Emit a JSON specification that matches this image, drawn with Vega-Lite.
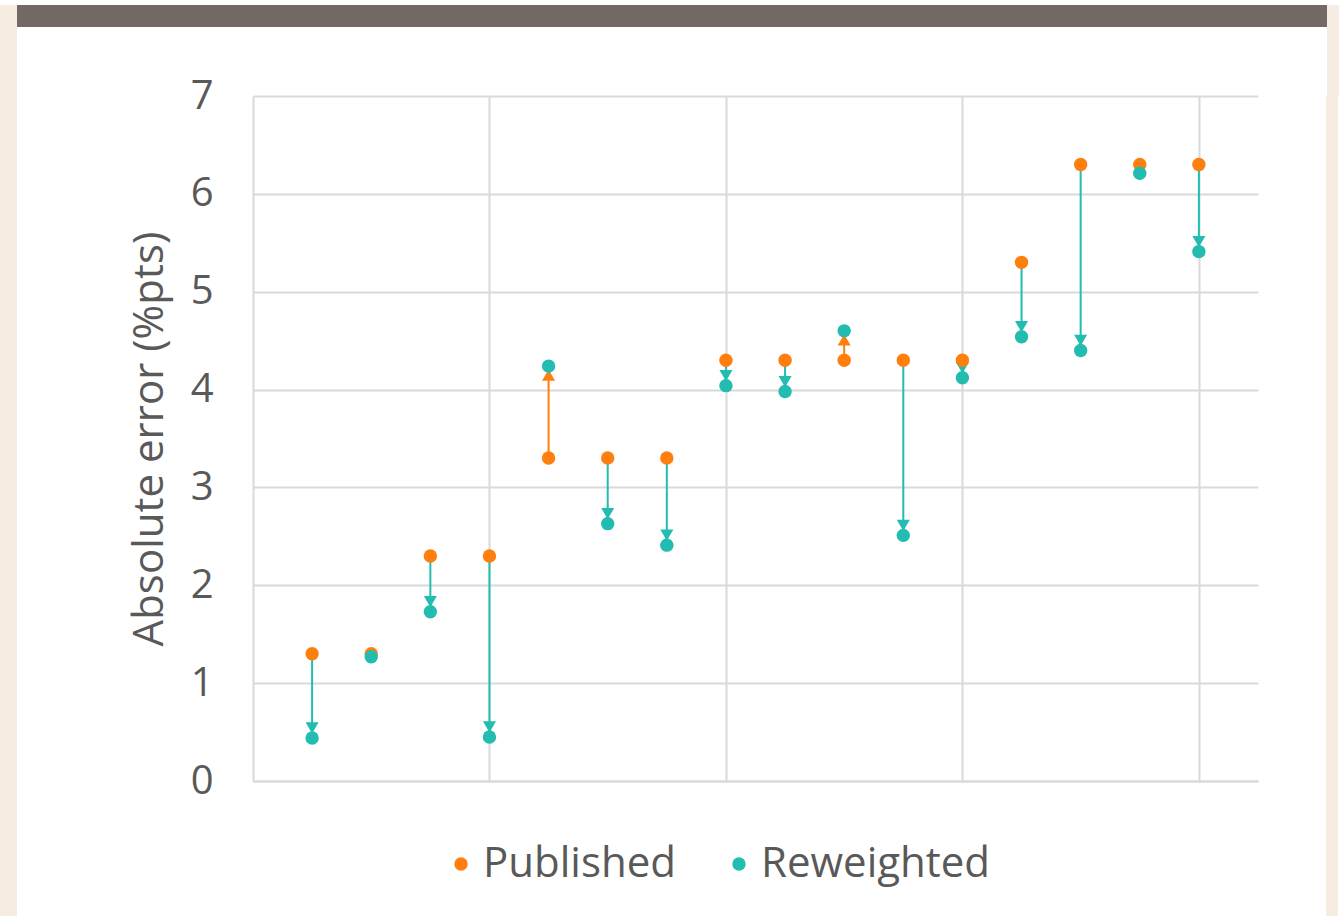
{
  "$schema": "https://vega.github.io/schema/vega-lite/v6.json",
  "background": "white",
  "padding": {"left": 0, "top": 5, "right": 0, "bottom": 0},
  "spacing": -20,
  "config": {
    "font": "Open Sans",
    "view": {"stroke": null},
    "axisY": {
      "grid": true, "gridColor": "#D9D9D9", "gridWidth": 2,
      "domain": true, "domainColor": "#D9D9D9", "domainWidth": 2,
      "ticks": false, "labelFontSize": 40, "labelColor": "#595959", "labelPadding": 40,
      "titleFontSize": 42, "titleColor": "#595959", "titleFontWeight": "normal",
      "titlePadding": 19, "tickCount": 7
    },
    "axisX": {
      "grid": true, "gridColor": "#D9D9D9", "gridWidth": 2,
      "domain": true, "domainColor": "#D9D9D9", "domainWidth": 2,
      "ticks": false, "labels": false
    },
    "legend": {
      "labelFontSize": 42, "labelColor": "#595959", "symbolType": "circle", "labelLimit": 600,
      "symbolSize": 180, "symbolOpacity": 1, "labelOffset": 1, "columnPadding": 42, "padding": 0
    }
  },
  "datasets": {
    "errors": [
      {"item": 1, "Published": 1.3, "Reweighted": 0.44},
      {"item": 2, "Published": 1.3, "Reweighted": 1.27},
      {"item": 3, "Published": 2.3, "Reweighted": 1.73},
      {"item": 4, "Published": 2.3, "Reweighted": 0.45},
      {"item": 5, "Published": 3.3, "Reweighted": 4.24},
      {"item": 6, "Published": 3.3, "Reweighted": 2.63},
      {"item": 7, "Published": 3.3, "Reweighted": 2.41},
      {"item": 8, "Published": 4.3, "Reweighted": 4.04},
      {"item": 9, "Published": 4.3, "Reweighted": 3.98},
      {"item": 10, "Published": 4.3, "Reweighted": 4.6},
      {"item": 11, "Published": 4.3, "Reweighted": 2.51},
      {"item": 12, "Published": 4.3, "Reweighted": 4.12},
      {"item": 13, "Published": 5.3, "Reweighted": 4.54},
      {"item": 14, "Published": 6.3, "Reweighted": 4.4},
      {"item": 15, "Published": 6.3, "Reweighted": 6.21},
      {"item": 16, "Published": 6.3, "Reweighted": 5.41}
    ]
  },
  "vconcat": [
    {
      "spacing": 0,
      "hconcat": [
        {"width": 17, "height": 91, "data": {"values": []}, "mark": "point", "view": {"fill": "#F7ECE2", "stroke": null}},
        {"width": 1310, "height": 22, "data": {"values": []}, "mark": "point", "view": {"fill": "#756966", "stroke": null}},
        {"width": 12, "height": 91, "data": {"values": []}, "mark": "point", "view": {"fill": "#F7ECE2", "stroke": null}}
      ]
    },
    {
      "spacing": 111,
      "resolve": {"scale": {"color": "independent"}, "legend": {"color": "independent"}},
      "hconcat": [
        {"width": 17, "height": 820, "data": {"values": []}, "mark": "point", "view": {"fill": "#F7ECE2", "stroke": null}},
        {
          "spacing": 68,
          "resolve": {"scale": {"color": "independent"}, "legend": {"color": "independent"}},
          "hconcat": [
            {
              "resolve": {"scale": {"color": "independent"}, "legend": {"color": "independent"}},
              "vconcat": [
                {
                  "data": {"name": "errors"},
                  "width": 1005, "height": 685,
                  "encoding": {
                    "x": {
                      "field": "item", "type": "quantitative",
                      "scale": {"domain": [0, 17], "nice": false, "zero": true},
                      "axis": {"values": [4, 8, 12, 16], "title": null}
                    }
                  },
                  "layer": [
                    {
                      "mark": {"type": "rule", "strokeWidth": 2},
                      "encoding": {
                        "y": {
                          "field": "Published", "type": "quantitative",
                          "scale": {"domain": [0, 7], "nice": false},
                          "title": "Absolute error (%pts)"
                        },
                        "y2": {"field": "Reweighted"},
                        "color": {
                          "condition": {"test": "datum.Reweighted > datum.Published", "value": "#FF7F0E"},
                          "value": "#22BCB0"
                        }
                      }
                    },
                    {
                      "transform": [{"filter": "datum.Published - datum.Reweighted > 0.12"}],
                      "mark": {"type": "point", "shape": "triangle-down", "filled": true, "size": 170, "yOffset": -10, "color": "#22BCB0", "opacity": 1},
                      "encoding": {
                        "y": {"field": "Reweighted", "type": "quantitative", "title": "Absolute error (%pts)"}
                      }
                    },
                    {
                      "transform": [{"filter": "datum.Reweighted - datum.Published > 0.12"}],
                      "mark": {"type": "point", "shape": "triangle-up", "filled": true, "size": 170, "yOffset": 9, "color": "#FF7F0E", "opacity": 1},
                      "encoding": {
                        "y": {"field": "Reweighted", "type": "quantitative", "title": "Absolute error (%pts)"}
                      }
                    },
                    {
                      "transform": [{"fold": ["Published", "Reweighted"], "as": ["series", "value"]}],
                      "mark": {"type": "circle", "size": 180, "opacity": 1},
                      "encoding": {
                        "y": {"field": "value", "type": "quantitative", "title": "Absolute error (%pts)"},
                        "color": {
                          "field": "series", "type": "nominal",
                          "scale": {"domain": ["Published", "Reweighted"], "range": ["#FF7F0E", "#22BCB0"]},
                          "legend": {"orient": "none", "direction": "horizontal", "title": null, "legendX": 187, "legendY": 747}
                        }
                      }
                    }
                  ]
                }
              ]
            },
            {"width": 12, "height": 820, "data": {"values": []}, "mark": "point", "view": {"fill": "#F7ECE2", "stroke": null}}
          ]
        }
      ]
    }
  ]
}
